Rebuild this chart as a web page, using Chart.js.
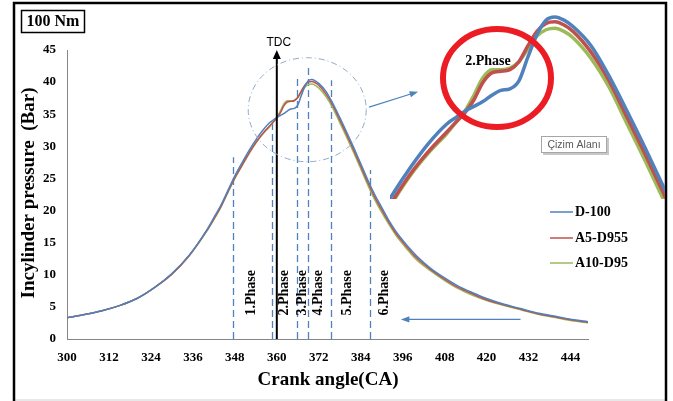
<!DOCTYPE html>
<html lang="en">
  <head>
    <meta charset="UTF-8" />
    <title>Incylinder pressure - 100 Nm</title>
    <script src="https://cdn.jsdelivr.net/npm/chart.js"></script>
    <style>
      html, body { margin: 0; padding: 0; background: #fff; }
      #wrap { position: relative; width: 673px; height: 401px; }
      #inset { position: absolute; left: 390px; top: 5px; width: 275px; height: 194px; }
    </style>
  </head>
  <body>
    <div id="wrap">
      <canvas id="pressureChart"></canvas>
      <!-- zoomed view of the combustion phases -->
      <div id="inset"><canvas id="zoomChart"></canvas></div>
    </div>

    <script>
      // Crank angle (deg) and cylinder pressure (bar)
      const crankAngles = [300, 305, 310, 315, 320, 325, 330, 335, 340, 342, 344, 346, 348, 350, 352, 354, 356, 358, 359, 360, 361, 362, 363, 364, 365, 366, 367, 368, 369, 370, 371, 372, 374, 376, 378, 380, 382, 384, 386, 388, 390, 392, 394, 396, 398, 400, 404, 408, 412, 416, 420, 425, 430, 435, 440, 445, 449];
      const d100 = [3.3, 3.8, 4.4, 5.2, 6.3, 8.0, 10.2, 13.1, 17.0, 18.9, 20.8, 23.1, 25.4, 27.4, 29.3, 31.0, 32.5, 33.7, 34.1, 34.5, 34.8, 35.1, 35.5, 35.8, 35.9, 36.4, 37.9, 39.3, 40.2, 40.4, 40.2, 39.8, 38.6, 36.7, 34.5, 32.2, 29.8, 27.3, 24.8, 22.5, 20.5, 18.5, 16.8, 15.4, 14.1, 12.9, 11.0, 9.5, 8.2, 7.2, 6.3, 5.4, 4.7, 4.0, 3.5, 3.0, 2.7];
      const a5d955 = [3.3, 3.8, 4.4, 5.2, 6.3, 8.0, 10.1, 13.0, 16.9, 18.7, 20.6, 22.9, 25.1, 27.0, 28.9, 30.6, 32.0, 33.2, 33.8, 34.4, 35.2, 36.3, 36.9, 37.0, 37.1, 37.6, 38.6, 39.5, 40.0, 40.1, 39.9, 39.5, 38.2, 36.4, 34.1, 31.8, 29.4, 26.9, 24.4, 22.1, 20.1, 18.2, 16.5, 15.1, 13.8, 12.6, 10.8, 9.3, 8.0, 7.0, 6.1, 5.3, 4.6, 3.9, 3.4, 2.9, 2.6];
      const a10d95 = [3.3, 3.8, 4.4, 5.2, 6.3, 8.0, 10.1, 13.0, 16.8, 18.6, 20.5, 22.8, 25.0, 26.9, 28.8, 30.5, 31.9, 33.1, 33.8, 34.5, 35.5, 36.6, 37.1, 37.1, 37.2, 37.6, 38.4, 39.2, 39.6, 39.7, 39.5, 39.1, 37.8, 36.0, 33.7, 31.4, 29.0, 26.5, 24.0, 21.7, 19.7, 17.9, 16.2, 14.8, 13.5, 12.3, 10.6, 9.1, 7.8, 6.8, 6.0, 5.2, 4.5, 3.8, 3.3, 2.8, 2.5];
      const seriesNames = ["D-100", "A5-D955", "A10-D95"];
      const xTicks = [300, 312, 324, 336, 348, 360, 372, 384, 396, 408, 420, 432, 444];

      // Phase boundaries (crank angle) and how high each dashed line reaches (bar)
      const phaseLines = [347.4, 358.7, 365.7, 368.8, 375.5, 386.6];
      const phaseTops = [28.3, 33.6, 40.8, 42.7, 40.3, 26.3];
      const phaseNames = ["1.Phase", "2.Phase", "3.Phase", "4.Phase", "5.Phase", "6.Phase"];
      const phaseLabelAngles = [352.6, 362.1, 367.2, 371.8, 380.1, 390.9];

      const colors = ["#4F81BD", "#C0504D", "#9BBB59"];
      const serif = '"Liberation Serif", "Times New Roman", serif';

      function makeDatasets(width) {
        return [d100, a5d955, a10d95].map((values, i) => ({
          label: seriesNames[i],
          data: values.map((p, j) => ({ x: crankAngles[j], y: p })),
          borderColor: colors[i],
          backgroundColor: colors[i],
          borderWidth: width,
          pointRadius: 0,
          cubicInterpolationMode: "monotone",
        }));
      }

      function arrow(ctx, x1, y1, x2, y2, color) {
        const ang = Math.atan2(y2 - y1, x2 - x1);
        ctx.strokeStyle = color;
        ctx.fillStyle = color;
        ctx.lineWidth = 1.2;
        ctx.setLineDash([]);
        ctx.beginPath();
        ctx.moveTo(x1, y1);
        ctx.lineTo(x2 - 6 * Math.cos(ang), y2 - 6 * Math.sin(ang));
        ctx.stroke();
        ctx.beginPath();
        ctx.moveTo(x2, y2);
        ctx.lineTo(x2 - 9 * Math.cos(ang - 0.35), y2 - 9 * Math.sin(ang - 0.35));
        ctx.lineTo(x2 - 9 * Math.cos(ang + 0.35), y2 - 9 * Math.sin(ang + 0.35));
        ctx.closePath();
        ctx.fill();
      }

      // dashed phase boundaries go under the curves
      const phaseLinesPlugin = {
        id: "phaseLines",
        beforeDatasetsDraw(chart) {
          const { ctx, scales: { x, y } } = chart;
          ctx.save();
          ctx.strokeStyle = "#4F81BD";
          ctx.lineWidth = 1.3;
          ctx.setLineDash([7, 4]);
          phaseLines.forEach((a, i) => {
            const px = Math.round(x.getPixelForValue(a)) + 0.5;
            ctx.beginPath();
            ctx.moveTo(px, y.getPixelForValue(0));
            ctx.lineTo(px, y.getPixelForValue(phaseTops[i]));
            ctx.stroke();
          });
          ctx.restore();
        },
      };

      const decorPlugin = {
        id: "decor",
        afterDraw(chart) {
          const { ctx, scales: { x, y } } = chart;
          ctx.save();

          // TDC arrow
          const tx = x.getPixelForValue(360);
          const tyTop = y.getPixelForValue(45);
          ctx.strokeStyle = "#000";
          ctx.fillStyle = "#000";
          ctx.lineWidth = 2;
          ctx.beginPath();
          ctx.moveTo(tx, y.getPixelForValue(0));
          ctx.lineTo(tx, tyTop + 6);
          ctx.stroke();
          ctx.beginPath();
          ctx.moveTo(tx, tyTop);
          ctx.lineTo(tx - 4, tyTop + 9);
          ctx.lineTo(tx + 4, tyTop + 9);
          ctx.closePath();
          ctx.fill();
          ctx.font = '12px "Liberation Sans", Arial, sans-serif';
          ctx.textAlign = "center";
          ctx.textBaseline = "middle";
          ctx.fillText("TDC", tx + 2, tyTop - 7);

          // dash-dot ring around the combustion region
          ctx.strokeStyle = "#8FA8C8";
          ctx.lineWidth = 1;
          ctx.setLineDash([6, 3, 1, 3]);
          ctx.beginPath();
          ctx.ellipse(x.getPixelForValue(368.7), y.getPixelForValue(35.7), 59, 52, 0, 0, Math.PI * 2);
          ctx.stroke();

          arrow(ctx, x.getPixelForValue(386.4), y.getPixelForValue(36.1), x.getPixelForValue(400.4), y.getPixelForValue(38.5), "#4F81BD");
          arrow(ctx, x.getPixelForValue(429.7), y.getPixelForValue(3.05), x.getPixelForValue(395.5), y.getPixelForValue(3.05), "#4F81BD");

          // phase labels
          ctx.fillStyle = "#000";
          ctx.font = "bold 14px " + serif;
          phaseNames.forEach((name, i) => {
            ctx.save();
            ctx.translate(x.getPixelForValue(phaseLabelAngles[i]), y.getPixelForValue(7.2));
            ctx.rotate(-Math.PI / 2);
            ctx.fillText(name, 0, 0);
            ctx.restore();
          });

          // legend
          ctx.textAlign = "left";
          ctx.font = "bold 14px " + serif;
          [212, 238, 263].forEach((ly, i) => {
            ctx.strokeStyle = colors[i];
            ctx.lineWidth = 1.5;
            ctx.beginPath();
            ctx.moveTo(550, ly);
            ctx.lineTo(573, ly);
            ctx.stroke();
            ctx.fillText(seriesNames[i], 575, ly);
          });

          // axis titles
          ctx.font = "bold 19px " + serif;
          ctx.textAlign = "center";
          ctx.fillText("Crank angle(CA)", 328, 380);
          ctx.save();
          ctx.translate(29, 193);
          ctx.rotate(-Math.PI / 2);
          ctx.fillText("Incylinder pressure  (Bar)", 0, 0);
          ctx.restore();

          // load label
          ctx.strokeStyle = "#000";
          ctx.lineWidth = 1.5;
          ctx.strokeRect(21.5, 10.5, 63, 22);
          ctx.font = "bold 16px " + serif;
          ctx.fillText("100 Nm", 53, 22);

          // figure frame
          ctx.fillStyle = "#e8e8e8";
          ctx.fillRect(14, 399, 651, 2);
          ctx.lineWidth = 2.5;
          ctx.strokeRect(14, 3, 652, 402);
          ctx.restore();
        },
      };

      new Chart(document.getElementById("pressureChart"), {
        type: "line",
        data: { datasets: makeDatasets(1.5) },
        options: {
          responsive: true,
          maintainAspectRatio: false,
          animation: false,
          layout: { padding: { top: 50, right: 85, bottom: 0, left: 0 } },
          plugins: { legend: { display: false }, tooltip: { enabled: false } },
          scales: {
            x: {
              type: "linear",
              min: 300,
              max: 449,
              afterBuildTicks: (scale) => {
                scale.ticks = xTicks.map((v) => ({ value: v }));
              },
              afterFit: (scale) => {
                scale.height = 62;
              },
              grid: { display: false },
              border: { color: "#868686" },
              ticks: { color: "#000", font: { family: serif, size: 13, weight: "bold" }, maxRotation: 0 },
            },
            y: {
              min: 0,
              max: 45,
              afterFit: (scale) => {
                scale.width = 67;
              },
              grid: { display: false },
              border: { color: "#868686" },
              ticks: { stepSize: 5, color: "#000", font: { family: serif, size: 13, weight: "bold" } },
            },
          },
        },
        plugins: [phaseLinesPlugin, decorPlugin],
      });

      // red ring, phase note and the chart-area tag on the zoomed view
      const insetPlugin = {
        id: "insetNotes",
        afterDraw(chart) {
          const { ctx } = chart;
          ctx.save();
          ctx.strokeStyle = "#EC1C24";
          ctx.lineWidth = 6;
          ctx.beginPath();
          ctx.ellipse(107, 73, 54, 49, 0, 0, Math.PI * 2);
          ctx.stroke();
          ctx.fillStyle = "#000";
          ctx.font = "bold 14px " + serif;
          ctx.textAlign = "center";
          ctx.textBaseline = "middle";
          ctx.fillText("2.Phase", 98, 56);

          ctx.fillStyle = "#c8c8c8";
          ctx.fillRect(153, 133, 66, 17);
          ctx.fillStyle = "#fff";
          ctx.fillRect(151, 131, 66, 17);
          ctx.strokeStyle = "#a6a6a6";
          ctx.lineWidth = 1;
          ctx.strokeRect(151.5, 131.5, 65, 16);
          ctx.fillStyle = "#595959";
          ctx.font = '10.5px "Liberation Sans", Arial, sans-serif';
          ctx.fillText("Çizim Alanı", 184, 140);
          ctx.restore();
        },
      };

      new Chart(document.getElementById("zoomChart"), {
        type: "line",
        data: { datasets: makeDatasets(3.5) },
        options: {
          responsive: true,
          maintainAspectRatio: false,
          animation: false,
          layout: { padding: 0 },
          plugins: { legend: { display: false }, tooltip: { enabled: false } },
          scales: {
            x: { type: "linear", min: 351.7, max: 382.2, display: false },
            y: { min: 29, max: 41.15, display: false },
          },
        },
        plugins: [insetPlugin],
      });
    </script>
  </body>
</html>
